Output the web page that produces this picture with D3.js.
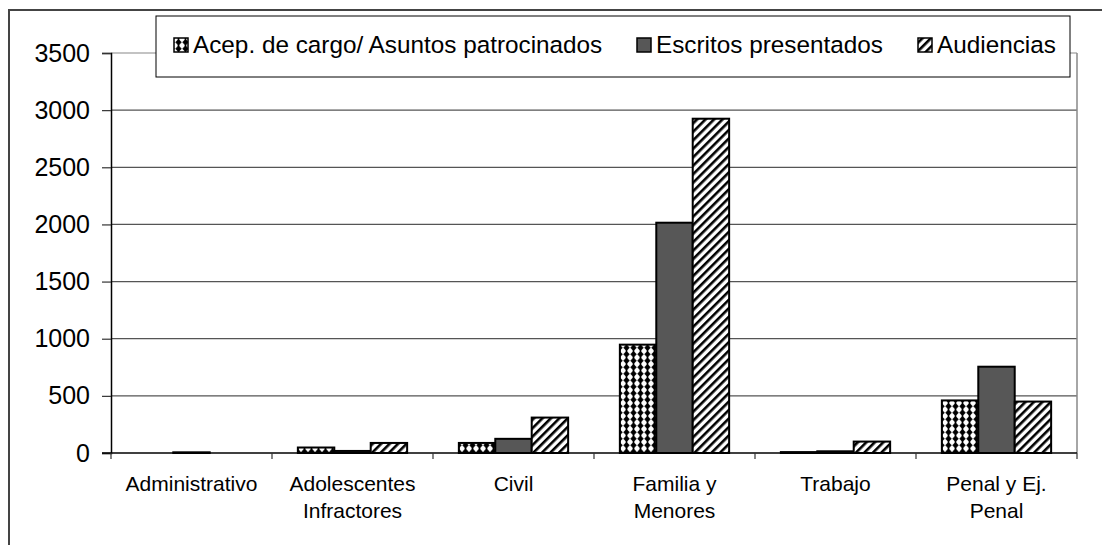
<!DOCTYPE html>
<html>
<head>
<meta charset="utf-8">
<script src="https://cdn.jsdelivr.net/npm/d3@7"></script>
<style>
  body { margin: 0; background: #fff; }
  svg { display: block; font-family: Arial, "Liberation Sans", sans-serif; }
</style>
</head>
<body>
<svg id="chart" width="1102" height="545"></svg>
<script>
// chart data
var categories = [["Administrativo"], ["Adolescentes", "Infractores"], ["Civil"],
                  ["Familia y", "Menores"], ["Trabajo"], ["Penal y Ej.", "Penal"]];
var seriesNames = ["Acep. de cargo/ Asuntos patrocinados", "Escritos presentados", "Audiencias"];
var acepValues = [0, 48, 88, 948, 8, 460];
var escritosValues = [6, 18, 124, 2015, 15, 755];
var audienciasValues = [0, 88, 310, 2925, 100, 450];
var yTicks = [0, 500, 1000, 1500, 2000, 2500, 3000, 3500];

var svg = d3.select("#chart");
var plot = { left: 111, right: 1077, top: 53, bottom: 453 };

// patterns
var defs = svg.append("defs");
var dots = defs.append("pattern").attr("id", "pDots")
    .attr("patternUnits", "userSpaceOnUse").attr("width", 7).attr("height", 6.5);
dots.append("rect").attr("width", 7).attr("height", 6.5).attr("fill", "#fff");
dots.append("rect").attr("x", 2.7).attr("width", 1.6).attr("height", 6.5).attr("fill", "#000");
dots.append("path").attr("d", "M3.5,0 L6.8,3.25 L3.5,6.5 L0.2,3.25 Z").attr("fill", "#000");

var stripes = defs.append("pattern").attr("id", "pStripes")
    .attr("patternUnits", "userSpaceOnUse").attr("width", 6).attr("height", 6)
    .attr("patternTransform", "rotate(45)");
stripes.append("rect").attr("width", 6).attr("height", 6).attr("fill", "#fff");
stripes.append("rect").attr("width", 2.6).attr("height", 6).attr("fill", "#000");

var fills = ["url(#pDots)", "#575757", "url(#pStripes)"];

// outer chart border
svg.append("path").attr("d", "M9,545 L9,10 L1102,10")
    .attr("fill", "none").attr("stroke", "#444").attr("stroke-width", 2);

var x0 = d3.scaleBand().domain(d3.range(categories.length))
    .range([plot.left, plot.right]);
var x1 = d3.scaleBand().domain(d3.range(3))
    .range([0, x0.bandwidth()]).paddingInner(0).paddingOuter(0.71);
var y = d3.scaleLinear().domain([0, 3500]).range([plot.bottom, plot.top]);

// gridlines
svg.append("g").selectAll("line").data(yTicks.slice(1)).enter().append("line")
    .attr("x1", plot.left).attr("x2", plot.right)
    .attr("y1", function(d) { return y(d); }).attr("y2", function(d) { return y(d); })
    .attr("stroke", function(d) { return d === 3500 ? "#888" : "#555"; })
    .attr("stroke-width", 1.2);
// right border of plot
svg.append("line").attr("x1", plot.right).attr("x2", plot.right)
    .attr("y1", plot.top).attr("y2", plot.bottom)
    .attr("stroke", "#888").attr("stroke-width", 1.5);

// bars
var series = [acepValues, escritosValues, audienciasValues];
series.forEach(function(vals, s) {
    svg.append("g").selectAll("rect").data(vals).enter().append("rect")
        .attr("x", function(d, i) { return x0(i) + x1(s); })
        .attr("y", function(d) { return y(d); })
        .attr("width", x1.bandwidth())
        .attr("height", function(d) { return plot.bottom - y(d); })
        .attr("fill", fills[s])
        .attr("stroke", "#000").attr("stroke-width", 2);
});

// y axis
var yAxis = svg.append("g").attr("transform", "translate(" + plot.left + ",0)")
    .call(d3.axisLeft(y).tickValues(yTicks).tickFormat(d3.format("d"))
        .tickSize(9).tickPadding(12));
yAxis.select(".domain").attr("stroke", "#000").attr("stroke-width", 1.5);
yAxis.selectAll(".tick line").attr("stroke", "#333").attr("stroke-width", 1.2);
yAxis.selectAll("text").attr("font-size", 25).attr("fill", "#000")
    .attr("font-family", "Arial, 'Liberation Sans', sans-serif");

// x axis
var xAxis = svg.append("g").attr("transform", "translate(0," + plot.bottom + ")");
xAxis.append("line").attr("x1", plot.left - 9).attr("x2", plot.right)
    .attr("stroke", "#000").attr("stroke-width", 1.5);
xAxis.selectAll(".xt").data(d3.range(categories.length + 1)).enter().append("line")
    .attr("x1", function(i) { return plot.left + i * x0.step(); })
    .attr("x2", function(i) { return plot.left + i * x0.step(); })
    .attr("y1", 0).attr("y2", 6).attr("stroke", "#333").attr("stroke-width", 1.2);
var labels = xAxis.selectAll(".cl").data(categories).enter().append("text")
    .attr("text-anchor", "middle").attr("font-size", 21).attr("fill", "#000")
    .attr("transform", function(d, i) {
        return "translate(" + (x0(i) + x0.bandwidth() / 2) + ",38)";
    });
labels.selectAll("tspan").data(function(d) { return d; }).enter().append("tspan")
    .attr("x", 0).attr("dy", function(d, j) { return j ? 27 : 0; })
    .text(function(d) { return d; });

// legend
var legend = svg.append("g");
legend.append("rect").attr("x", 156).attr("y", 16).attr("width", 914).attr("height", 61)
    .attr("fill", "#fff").attr("stroke", "#000").attr("stroke-width", 1);
var legendX = [174, 637, 918];
seriesNames.forEach(function(name, s) {
    legend.append("rect").attr("x", legendX[s]).attr("y", 38).attr("width", 14).attr("height", 14)
        .attr("fill", fills[s]).attr("stroke", "#000").attr("stroke-width", 1.5);
    legend.append("text").attr("x", legendX[s] + 19).attr("y", 53)
        .attr("font-size", 24.3).attr("fill", "#000").text(name);
});
</script>
</body>
</html>
